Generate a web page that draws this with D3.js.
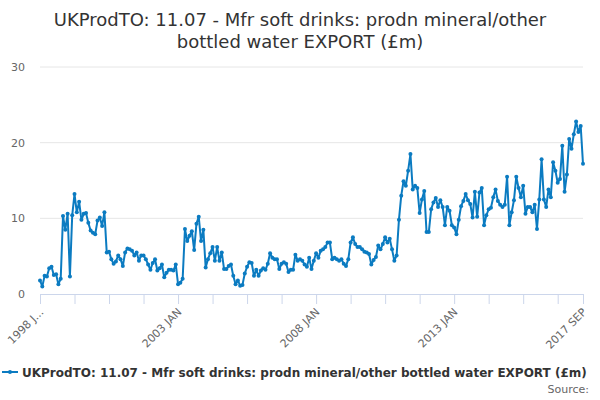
<!DOCTYPE html>
<html>
<head>
<meta charset="utf-8">
<script src="https://cdn.jsdelivr.net/npm/d3@7"></script>
<style>
  body { margin: 0; background: #fff; }
  svg { font-family: "DejaVu Sans", sans-serif; }
</style>
</head>
<body>
<div id="chart"></div>
<script>
const title = ['UKProdTO: 11.07 - Mfr soft drinks: prodn mineral/other', 'bottled water EXPORT (£m)'];
const seriesName = 'UKProdTO: 11.07 - Mfr soft drinks: prodn mineral/other bottled water EXPORT (£m)';

// monthly, 1998 JAN .. 2017 SEP
const startYear = 1998;
const values = [
  1.8, 1.0, 2.4, 2.3, 3.4, 3.6, 2.5, 2.6, 1.3, 2.0,
  10.3, 8.5, 10.6, 2.3, 10.4, 13.2, 10.8, 12.2, 9.8, 10.6,
  10.7, 9.4, 8.4, 8.1, 7.9, 9.7, 10.1, 9.0, 10.8, 5.5,
  5.6, 4.6, 4.0, 4.3, 5.1, 4.6, 3.7, 5.5, 6.0, 5.9,
  5.7, 5.1, 5.5, 4.4, 5.1, 5.1, 4.6, 3.9, 3.2, 4.1,
  4.6, 3.1, 3.4, 3.9, 2.2, 2.8, 3.2, 3.2, 3.1, 3.9,
  1.3, 1.5, 2.0, 8.6, 7.0, 7.7, 8.3, 5.8, 9.3, 10.2,
  7.0, 8.5, 3.5, 4.6, 5.4, 6.2, 4.4, 6.2, 4.4, 5.5,
  3.3, 3.3, 3.7, 3.9, 2.4, 1.3, 1.8, 1.1, 1.2, 2.7,
  3.6, 4.2, 4.1, 2.4, 3.2, 2.4, 3.1, 3.4, 3.2, 4.0,
  5.4, 4.8, 4.6, 4.6, 3.3, 4.0, 4.2, 4.0, 2.9, 3.2,
  3.2, 5.2, 4.4, 4.6, 4.4, 3.9, 3.6, 4.8, 3.3, 4.4,
  5.4, 4.8, 5.7, 5.9, 6.2, 6.8, 6.8, 4.6, 4.8, 4.6,
  4.4, 4.6, 4.0, 3.7, 4.6, 6.8, 7.5, 6.6, 6.2, 6.2,
  5.9, 5.6, 5.5, 5.3, 3.9, 4.5, 4.9, 6.4, 5.9, 6.6,
  7.5, 6.8, 7.3, 5.9, 4.4, 5.1, 9.8, 13.0, 14.9, 14.3,
  16.3, 18.5, 13.8, 14.3, 14.0, 10.7, 12.5, 13.6, 8.2, 8.2,
  11.2, 12.1, 12.7, 11.5, 12.4, 11.5, 9.1, 11.5, 11.0, 9.1,
  8.8, 7.9, 9.8, 11.6, 12.3, 13.2, 12.4, 11.9, 10.1, 13.5,
  10.2, 13.4, 14.0, 9.1, 10.4, 11.2, 11.4, 12.8, 13.8, 12.3,
  11.8, 11.5, 11.8, 15.5, 9.1, 10.8, 12.4, 15.5, 14.0, 12.8,
  14.3, 10.6, 11.5, 11.5, 10.8, 11.8, 8.6, 12.5, 17.8, 12.5,
  11.5, 13.8, 12.8, 17.4, 16.3, 14.7, 15.2, 19.6, 13.5, 15.8,
  20.5, 19.2, 21.1, 22.8, 21.4, 22.2, 17.2
];
const monthNames = ['JAN','FEB','MAR','APR','MAY','JUN','JUL','AUG','SEP','OCT','NOV','DEC'];
const categories = values.map((v, i) => `${startYear + Math.floor(i / 12)} ${monthNames[i % 12]}`);

const yTicks = [0, 10, 20, 30];
const tickEvery = 15;
const labelledCats = ['1998 JAN', '2003 JAN', '2008 JAN', '2013 JAN', '2017 SEP'];
const labelText = { '1998 JAN': '1998 J...' };

const width = 600, height = 400;
const color = '#0b7bc1';

const svg = d3.select('#chart').append('svg')
    .attr('width', width)
    .attr('height', height);

const x = d3.scalePoint().domain(categories).range([40, 583]);
const y = d3.scaleLinear().domain([0, 30]).range([294, 67]);

// title
svg.append('text')
    .attr('x', width / 2)
    .attr('y', 26)
    .attr('text-anchor', 'middle')
    .style('font-size', '18px')
    .style('fill', '#333')
  .selectAll('tspan')
    .data(title)
    .enter().append('tspan')
    .attr('x', width / 2)
    .attr('dy', (d, i) => i ? 22 : 0)
    .text(d => d);

// gridlines
svg.append('g').selectAll('line')
    .data(yTicks.filter(d => d > 0))
    .enter().append('line')
    .attr('x1', 40).attr('x2', 583)
    .attr('y1', d => y(d)).attr('y2', d => y(d))
    .attr('stroke', '#e6e6e6');

// y labels
svg.append('g').selectAll('text')
    .data(yTicks)
    .enter().append('text')
    .attr('x', 25)
    .attr('y', d => y(d) + 4)
    .attr('text-anchor', 'end')
    .style('font-size', '11px')
    .style('fill', '#666')
    .text(d => d);

// x axis
const tickCats = categories.filter((c, i) => i % tickEvery === 0 || i === categories.length - 1);
const xAxis = d3.axisBottom(x)
    .tickValues(tickCats)
    .tickSize(10)
    .tickFormat(d => labelledCats.includes(d) ? (labelText[d] || d) : '');

const gx = svg.append('g')
    .attr('transform', `translate(0,${y(0)})`)
    .call(xAxis);
gx.select('.domain').attr('stroke', '#ccd6eb').attr('d', 'M40,0.5H583');
gx.selectAll('.tick line').attr('stroke', '#ccd6eb');
gx.selectAll('.tick text')
    .attr('text-anchor', 'end')
    .attr('transform', 'translate(1,16) rotate(-45)')
    .attr('y', 0).attr('dy', '0.35em')
    .style('font-size', '11px')
    .style('font-family', '"DejaVu Sans", sans-serif')
    .style('fill', '#666');

// series
const line = d3.line()
    .x((d, i) => x(categories[i]))
    .y(d => y(d));

svg.append('path')
    .datum(values)
    .attr('d', line)
    .attr('fill', 'none')
    .attr('stroke', color)
    .attr('stroke-width', 2)
    .attr('stroke-linejoin', 'round');

svg.append('g').selectAll('circle')
    .data(values)
    .enter().append('circle')
    .attr('cx', (d, i) => x(categories[i]))
    .attr('cy', d => y(d))
    .attr('r', 2)
    .attr('fill', color);

// legend
const legend = svg.append('g').attr('transform', 'translate(2,372)');
legend.append('line').attr('x1', 0).attr('x2', 16).attr('stroke', color).attr('stroke-width', 2);
legend.append('circle').attr('cx', 8).attr('r', 2).attr('fill', color);
legend.append('text')
    .attr('x', 20).attr('y', 5)
    .style('font-size', '12px')
    .style('font-weight', 'bold')
    .style('fill', '#333')
    .text(seriesName);

svg.append('text')
    .attr('x', 589).attr('y', 393)
    .attr('text-anchor', 'end')
    .style('font-size', '11px')
    .style('fill', '#666')
    .text('Source:');
</script>
</body>
</html>
